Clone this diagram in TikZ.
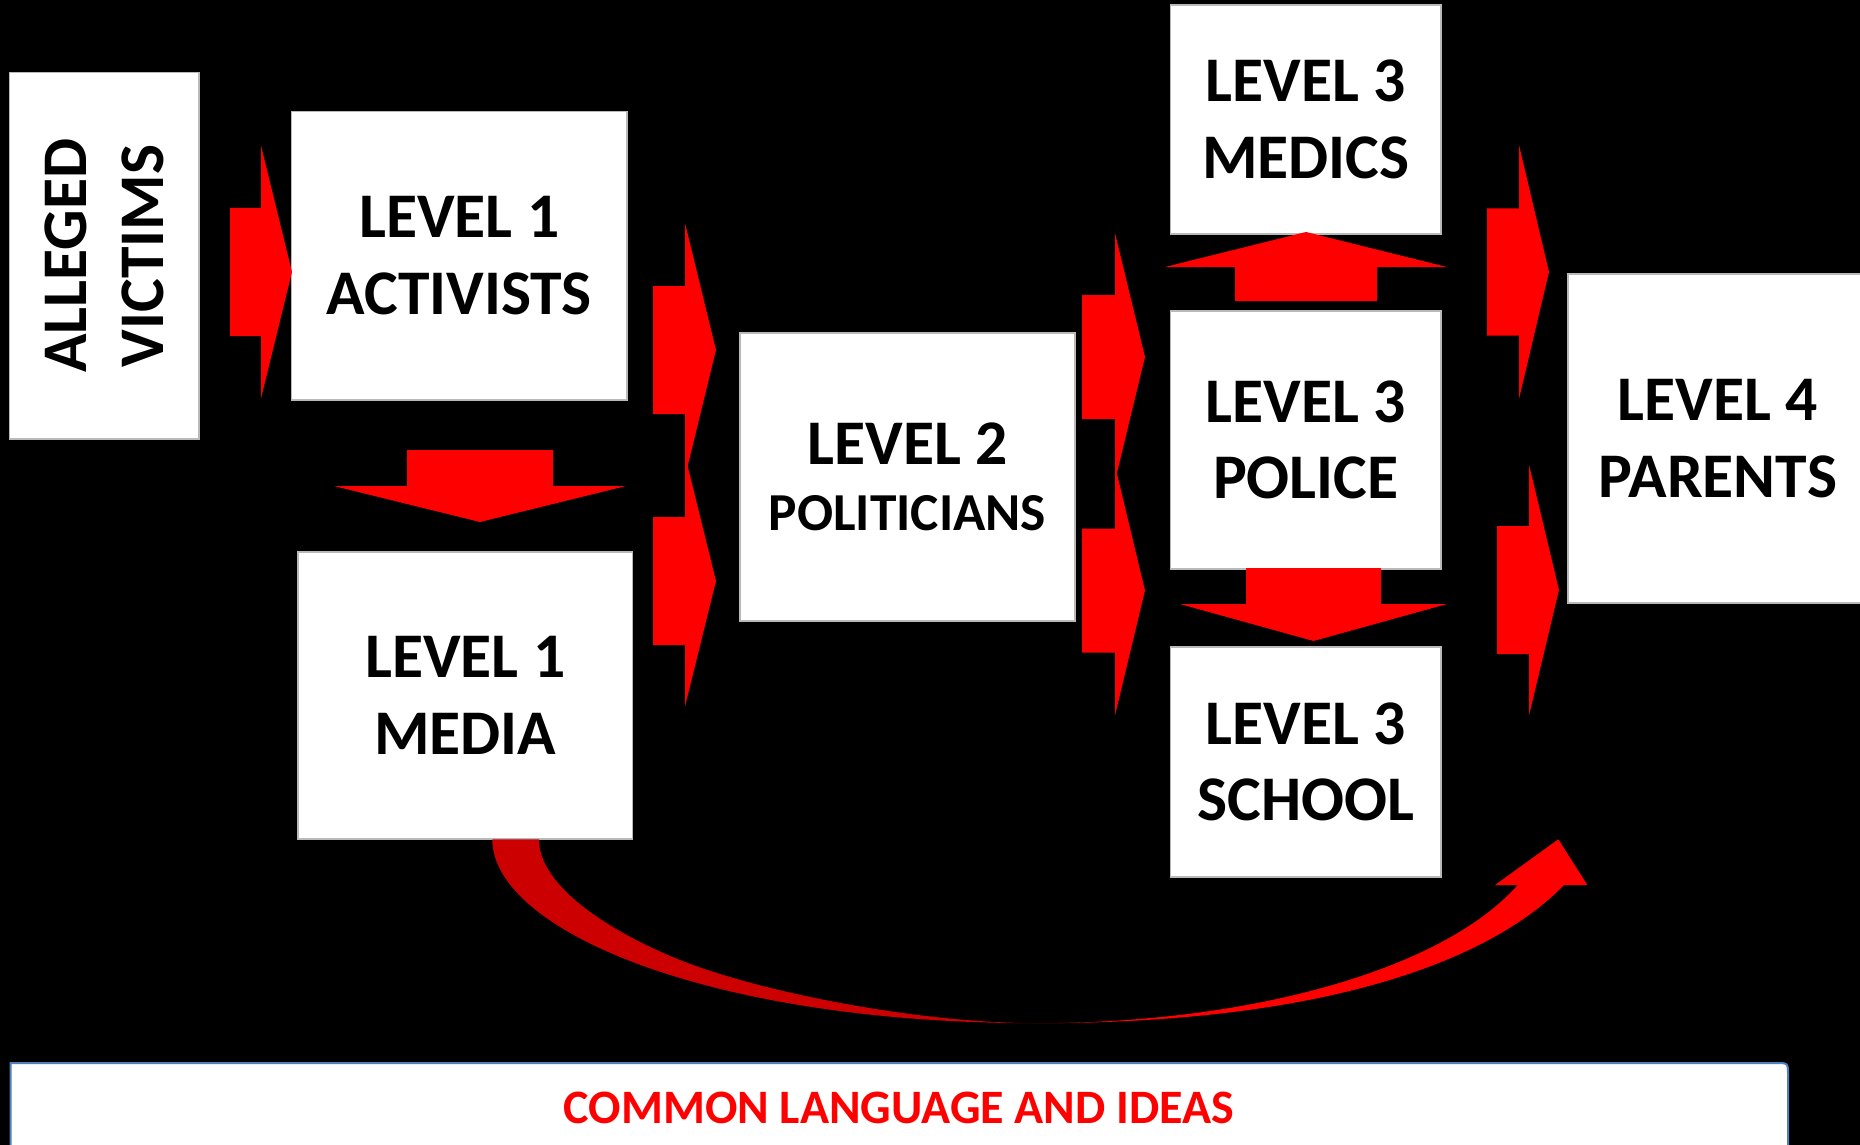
\documentclass[tikz,border=0pt]{standalone}
\usepackage{fontspec}
\newfontfamily\carl{Carlito}
\definecolor{arrowred}{RGB}{255,0,0}
\definecolor{darkarrowred}{RGB}{204,0,0}
\definecolor{bannerblue}{RGB}{79,129,189}
\newcommand\blockright[6]{% x0, yc, shaft end x, tip x, shaft half, head half
  \fill[blockred] (#1,#2-#5) -- (#3,#2-#5) -- (#3,#2-#6) -- (#4,#2) -- (#3,#2+#6) -- (#3,#2+#5) -- (#1,#2+#5) -- cycle;}
\newcommand\blockvert[6]{% xc, y0, shaft end y, tip y, shaft half, head half
  \fill[blockred] (#1-#5,#2) -- (#1-#5,#3) -- (#1-#6,#3) -- (#1,#4) -- (#1+#6,#3) -- (#1+#5,#3) -- (#1+#5,#2) -- cycle;}
\begin{document}
\begin{tikzpicture}[x=0.5pt,y=-0.5pt,
  box/.style={draw=gray!55, line width=0.6pt, fill=white, inner sep=0pt, align=center,
    font=\carl\bfseries\fontsize{31.8}{38.2}\selectfont},
  blockred/.style={fill=arrowred},
  bannertext/.style={font=\carl\bfseries\fontsize{24}{28}\selectfont, text=arrowred},
]
\clip (0,0) rectangle (1860,1145);
\fill[black] (0,0) rectangle (1860,1145);

% boxes
\node[box, rotate=90, minimum width=183.25pt, minimum height=94.75pt] (vic) at (104.25,255.75) {ALLEGED\\VICTIMS};
\node[box, minimum width=167.75pt, minimum height=144.25pt] (act) at (459.25,255.75) {LEVEL 1\\ACTIVISTS};
\node[box, minimum width=167.25pt, minimum height=143.5pt] (media) at (465.25,695.5) {LEVEL 1\\MEDIA};
\node[box, minimum width=167.5pt, minimum height=144pt] (pol) at (907.5,477) {LEVEL 2\\[-4.9pt]{\fontsize{26.7}{33}\selectfont POLITICIANS}};
\node[box, minimum width=135.25pt, minimum height=114.5pt] (medics) at (1305.75,119.5) {LEVEL 3\\MEDICS};
\node[box, minimum width=135.25pt, minimum height=129pt] (police) at (1305.75,440) {LEVEL 3\\POLICE};
\node[box, minimum width=135.25pt, minimum height=115pt] (school) at (1305.75,762) {LEVEL 3\\SCHOOL};
\node[box, minimum width=150pt, minimum height=164.5pt] (par) at (1718,438.5) {LEVEL 4\\PARENTS};

% block arrows
\blockright{230}{272}{261}{292}{64}{126.5}
\blockright{653}{350}{685}{716}{64}{127}
\blockright{653}{581}{685}{716}{64}{125.5}
\blockright{1082}{357}{1115}{1145}{62}{124}
\blockright{1082}{590.5}{1115}{1145}{62}{125}
\blockright{1487}{272}{1519}{1549}{63.5}{127}
\blockright{1497}{590}{1529}{1559}{64}{125.5}
\blockvert{480}{450}{486}{522}{73}{146}
\blockvert{1313.5}{568}{604}{641}{67.5}{133.5}
\blockvert{1306}{301}{267}{232}{71}{141}

% curved arrow from media towards parents
\coordinate (cstartO) at (492.3,839.3);
\coordinate (cstartI) at (539,839.3);
\coordinate (cbottom) at (1037,1023.2);
\fill[darkarrowred] (cstartO) .. controls (492.3,929.3) and (707,1023.3) .. (cbottom)
  .. controls (917,1023) and (760,992) .. (680,960)
  .. controls (620,936) and (539,890) .. (cstartI) -- cycle;
\fill[arrowred] (cbottom) .. controls (1257,1023) and (1445,967.5) .. (1517.7,885)
  -- (1495,885) -- (1558.3,839.3) -- (1587.3,885) -- (1564,885)
  .. controls (1487,964.2) and (1317,1023.3) .. (cbottom) -- cycle;

% banner
\draw[bannerblue, line width=1pt, fill=white] (10.5,1170) -- (10.5,1063) -- (1776,1063) .. controls (1788,1063) .. (1788,1075) -- (1788,1170);
\node[bannertext] (common) at (899,1107.7) {COMMON LANGUAGE AND IDEAS};
\end{tikzpicture}
\end{document}
